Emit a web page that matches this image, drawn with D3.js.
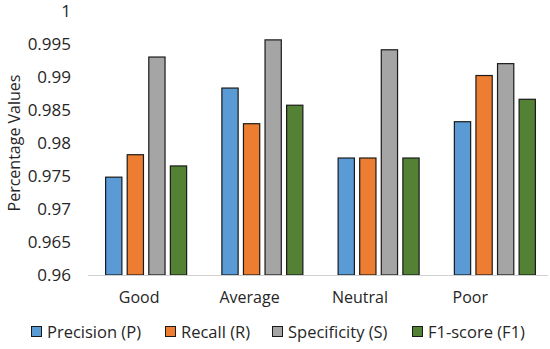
<!DOCTYPE html>
<html>
<head>
<meta charset="utf-8">
<script src="https://cdn.jsdelivr.net/npm/d3@7"></script>
<style>
  body { margin: 0; background: #fff; }
  text { font-family: "Open Sans", sans-serif; fill: #262626; }
</style>
</head>
<body>
<div id="main"></div>
<script>
// data
const categories = ["Good", "Average", "Neutral", "Poor"];
const seriesNames = ["Precision (P)", "Recall (R)", "Specificity (S)", "F1-score (F1)"];
const precision = [0.9749, 0.9884, 0.9778, 0.9833];
const recall = [0.9783, 0.9830, 0.9778, 0.9903];
const specificity = [0.9931, 0.9957, 0.9942, 0.9921];
const f1score = [0.9766, 0.9858, 0.9778, 0.9867];
const yTicks = [0.96, 0.965, 0.97, 0.975, 0.98, 0.985, 0.99, 0.995, 1];
const colors = ["#5B9BD5", "#ED7D31", "#A5A5A5", "#548235"];

const seriesValues = [precision, recall, specificity, f1score];

const width = 550, height = 349;

const svg = d3.select("#main")
    .append("svg")
    .attr("width", width)
    .attr("height", height)

// scales
const x = d3.scaleBand()
    .domain(categories)
    .range([88, 553])
    .paddingInner(0)

const xInner = d3.scaleBand()
    .domain(seriesNames)
    .range([0, 82])
    .paddingInner(0.2)

// labels sit a bit tighter than the bar groups in the reference
const xLabel = d3.scaleBand()
    .domain(categories)
    .range([84, 525.5])

const y = d3.scaleLinear()
    .domain([0.96, 1])
    .range([275, 11])

// y axis labels
const yAxis = svg.append("g")
    .attr("transform", "translate(71,0)")
    .call(d3.axisLeft(y).tickValues(yTicks).tickSize(0).tickPadding(0)
        .tickFormat(d => d3.format("")(+d.toFixed(3))))
yAxis.select(".domain").remove()
yAxis.selectAll("text")
    .style("font-size", "17px")
    .style("font-family", "'Open Sans', sans-serif")
    .attr("fill", "#262626")

// bars
const rows = [];
categories.forEach((c, i) => {
    seriesNames.forEach((s, j) => {
        rows.push({ cat: c, series: s, value: seriesValues[j][i], color: colors[j] })
    })
})

const groupOffset = (x.bandwidth() - 82) / 2;

svg.append("g")
    .selectAll(".myBar")
    .data(rows)
    .join("rect")
    .attr("class", "myBar")
    .attr("x", d => x(d.cat) + groupOffset + xInner(d.series) + 0.5)
    .attr("y", d => y(d.value) + 0.5)
    .attr("width", xInner.bandwidth() - 1)
    .attr("height", d => y(0.96) - y(d.value) - 0.5)
    .attr("fill", d => d.color)
    .attr("stroke", "#1a1a1a")
    .attr("stroke-width", 1.2)

// baseline
svg.append("line")
    .attr("x1", 88)
    .attr("x2", 548)
    .attr("y1", y(0.96) + 0.5)
    .attr("y2", y(0.96) + 0.5)
    .attr("stroke", "#d0d0d0")
    .attr("stroke-width", 1)

// category labels
const xAxis = svg.append("g")
    .attr("transform", "translate(0,292)")
    .call(d3.axisBottom(xLabel).tickSize(0).tickPadding(0))
xAxis.select(".domain").remove()
xAxis.selectAll("text")
    .attr("dy", "0.71em")
    .style("font-size", "16px")
    .style("font-family", "'Open Sans', sans-serif")
    .attr("fill", "#262626")

// y axis title
svg.append("text")
    .attr("transform", "rotate(-90)")
    .attr("x", -143)
    .attr("y", 20)
    .style("text-anchor", "middle")
    .style("font-size", "16px")
    .text("Percentage Values");

// legend
const legendX = [31, 165, 272, 412];
const legend = svg.append("g")
    .selectAll(".legendItem")
    .data(seriesNames)
    .join("g")
    .attr("class", "legendItem")
    .attr("transform", (d, i) => `translate(${legendX[i]},326)`)

legend.append("rect")
    .attr("x", 0.5)
    .attr("y", 0.5)
    .attr("width", 10)
    .attr("height", 10)
    .attr("fill", (d, i) => colors[i])
    .attr("stroke", "#1a1a1a")
    .attr("stroke-width", 1)

legend.append("text")
    .attr("x", 16)
    .attr("y", 6)
    .attr("dy", "0.35em")
    .style("font-size", "16.5px")
    .text(d => d)
</script>
</body>
</html>
